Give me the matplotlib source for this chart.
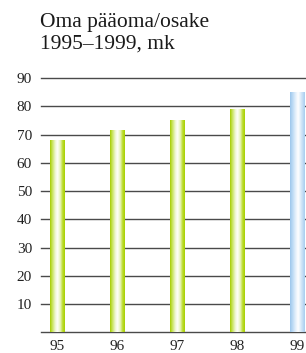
import numpy as np
import matplotlib
matplotlib.use("Agg")
import matplotlib.pyplot as plt
from matplotlib.colors import LinearSegmentedColormap

years = ["95", "96", "97", "98", "99"]
values = [68.2, 71.6, 75.3, 79.2, 84.9]
yticks = [10, 20, 30, 40, 50, 60, 70, 80, 90]
title = "Oma pääoma/osake\n1995–1999, mk"

W, H = 306, 353
fig = plt.figure(figsize=(W / 100, H / 100), dpi=100)
left_px, right_px, top_px, bot_px = 41, 306, 75, 333.7
ax = fig.add_axes([left_px / W, 1 - bot_px / H, (right_px - left_px) / W, (bot_px - top_px) / H])

serif = ["Liberation Serif", "DejaVu Serif"]

x = np.arange(len(years))
width = 0.25
green = LinearSegmentedColormap.from_list(
    "g", [(0, "#a6cc00"), (0.12, "#c2e04a"), (0.35, "#eef6d0"), (0.5, "#ffffff"),
          (0.7, "#e6f2b8"), (0.85, "#bcdc30"), (1, "#a8d000")])
blue = LinearSegmentedColormap.from_list(
    "b", [(0, "#9cc6ec"), (0.15, "#b8d8f4"), (0.4, "#e8f2fc"), (0.55, "#ffffff"),
          (0.75, "#d6e8f8"), (1, "#a8cef0")])

bars = ax.bar(x, values, width=width, color="none", edgecolor="none", zorder=3)
grad = np.linspace(0, 1, 64).reshape(1, -1)
for i, b in enumerate(bars):
    cmap = blue if i == len(bars) - 1 else green
    x0 = b.get_x()
    im = ax.imshow(grad, cmap=cmap, aspect="auto",
                   extent=(x0, x0 + b.get_width(), 0, b.get_height()),
                   zorder=3, interpolation="bilinear")
    im.set_clip_path(b)

for v in [0] + yticks:
    ax.axhline(v, color="#4a4a4a", lw=1.0, zorder=2, clip_on=False)

ax.set_xlim((left_px - 57.5) / 60, (right_px - 57.5) / 60)
ax.set_ylim(-0.5, 90 + (78 - top_px) / 2.82)
ax.set_xticks(x)
ax.set_xticklabels(years, fontfamily=serif, fontsize=11)
ax.set_yticks(yticks)
ax.set_yticklabels([str(t) for t in yticks], fontfamily=serif, fontsize=11)
ax.tick_params(length=0, colors="#222222")
ax.tick_params(axis="y", pad=6.5)
ax.tick_params(axis="x", pad=4.5)
for s in ax.spines.values():
    s.set_visible(False)
ax.set_facecolor("none")

fig.text(40 / W, 1 - 13 / H, title, ha="left", va="top", fontfamily=serif,
         fontsize=15.5, color="#1a1a1a", linespacing=1.15)

fig.savefig("out.png", dpi=100)
